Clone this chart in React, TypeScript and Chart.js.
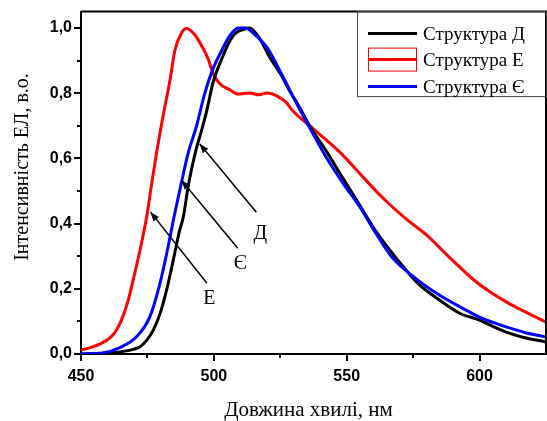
import React, { useEffect, useRef } from "react";
import { Chart, registerables } from "chart.js";

Chart.register(...registerables);

// ---- data ----
const seriesLabels = ["Структура Д", "Структура Е", "Структура Є"];

const wlD = [450, 460, 466, 470, 472.2, 475, 477.2, 480, 482.2, 484, 485.5, 487, 488.5, 490.5, 493.2, 495, 497.3, 499.7, 502.9, 506, 508.5, 511, 513.5, 517, 521, 525, 529, 532, 536, 542.5, 548.5, 555, 561, 569, 577, 585, 592.5, 600, 605, 610, 617, 625];
const valD = [0.0, 0.003, 0.008, 0.015, 0.022, 0.045, 0.073, 0.13, 0.196, 0.26, 0.318, 0.375, 0.42, 0.522, 0.624, 0.675, 0.745, 0.833, 0.904, 0.96, 0.986, 0.995, 1.0, 0.97, 0.91, 0.86, 0.8, 0.76, 0.7, 0.62, 0.54, 0.455, 0.376, 0.29, 0.215, 0.165, 0.125, 0.104, 0.085, 0.067, 0.05, 0.037];

const wlE = [450, 453, 457, 461, 463.5, 466, 468, 470, 472.2, 474.7, 476.6, 478.5, 480.9, 483.5, 485.3, 487.9, 489.7, 492.9, 495.4, 497.9, 499.8, 502.3, 506, 509.1, 513.5, 517, 520, 524, 527.4, 529.7, 536, 542.5, 548.5, 555, 561, 567.3, 573, 580, 587.6, 597.4, 604, 610, 617, 625];
const valE = [0.012, 0.018, 0.03, 0.05, 0.075, 0.12, 0.172, 0.24, 0.318, 0.42, 0.522, 0.62, 0.73, 0.84, 0.93, 0.985, 0.998, 0.978, 0.945, 0.904, 0.858, 0.828, 0.81, 0.797, 0.8, 0.795, 0.8, 0.79, 0.77, 0.746, 0.7, 0.655, 0.61, 0.553, 0.5, 0.45, 0.41, 0.365, 0.305, 0.23, 0.19, 0.16, 0.13, 0.098];

const wlYe = [450, 458, 464.7, 470.9, 475.9, 479.7, 482.5, 485, 487.7, 490.3, 493.5, 496.6, 499.7, 502.9, 506, 509.1, 512, 514.7, 520, 526, 532, 537, 542.5, 548.5, 555, 561, 567, 577, 585, 592.5, 600, 605, 610, 617, 625];
const valYe = [0.0, 0.003, 0.02, 0.053, 0.114, 0.216, 0.318, 0.42, 0.522, 0.615, 0.7, 0.8, 0.875, 0.93, 0.976, 1.0, 1.0, 0.985, 0.94, 0.85, 0.755, 0.68, 0.6, 0.525, 0.45, 0.37, 0.297, 0.225, 0.18, 0.145, 0.113, 0.097, 0.083, 0.066, 0.052];

const seriesColors = ["#000000", "#ff0000", "#0000ff"];

const xMin = 450;
const xMax = 625;
const xTickValues = [450, 500, 550, 600];
const yMin = 0;
const yMax = 1.05;
const yTickValues = [0, 0.2, 0.4, 0.6, 0.8, 1.0];
const xMinorTicks = [475, 525, 575];
const yMinorTicks = [0.1, 0.3, 0.5, 0.7, 0.9];

const xTitle = "Довжина хвилі, нм";
const yTitle = "Інтенсивність ЕЛ, в.о.";

// annotation arrows: label, tail(x,y), head(x,y), label(x,y) in data units
const annLabels = ["Д", "Є", "Е"];
const annTail = [[516.0, 0.435], [509.0, 0.324], [497.4, 0.217]];
const annHead = [[494.7, 0.644], [487.9, 0.532], [476.2, 0.435]];
const annText = [[517.5, 0.37], [510.0, 0.278], [498.3, 0.17]];

const toPts = (xs: number[], ys: number[]) => xs.map((x, i) => ({ x, y: ys[i] }));

const decorPlugin = {
  id: "decor",
  afterDraw(chart: any) {
    const ctx = chart.ctx;
    const xs = chart.scales.x;
    const ys = chart.scales.y;
    const a = chart.chartArea;
    ctx.save();
    // frame top and right
    ctx.strokeStyle = "#000";
    ctx.lineWidth = 2;
    ctx.beginPath();
    ctx.moveTo(a.left, a.top);
    ctx.lineTo(a.right, a.top);
    ctx.lineTo(a.right, a.bottom);
    ctx.stroke();
    // minor ticks
    ctx.lineWidth = 2;
    ctx.beginPath();
    xMinorTicks.forEach((v) => {
      const px = Math.round(xs.getPixelForValue(v));
      ctx.moveTo(px, a.bottom);
      ctx.lineTo(px, a.bottom + 4);
    });
    yMinorTicks.forEach((v) => {
      const py = Math.round(ys.getPixelForValue(v));
      ctx.moveTo(a.left, py);
      ctx.lineTo(a.left - 4, py);
    });
    ctx.stroke();

    // legend
    const lx = 357;
    const ly = a.top;
    const lw = a.right - lx;
    const lh = 85;
    ctx.strokeStyle = "#444";
    ctx.lineWidth = 1;
    ctx.strokeRect(lx + 0.5, ly, lw, lh);
    const rowsY = [ly + 22, ly + 48, ly + 75];
    chart.data.datasets.forEach((ds: any, i: number) => {
      const y = rowsY[i];
      if (i === 1) {
        ctx.strokeStyle = ds.borderColor;
        ctx.lineWidth = 1;
        ctx.strokeRect(368.5, y - 11.5, 48, 23);
      }
      ctx.strokeStyle = ds.borderColor;
      ctx.lineWidth = 3;
      ctx.beginPath();
      ctx.moveTo(368, y);
      ctx.lineTo(417, y);
      ctx.stroke();
      ctx.fillStyle = "#000";
      ctx.font = '19px "Liberation Serif"';
      ctx.textAlign = "left";
      ctx.textBaseline = "middle";
      ctx.fillText(ds.label, 423, y + 1);
    });

    // annotations
    annLabels.forEach((lab, i) => {
      const tx = xs.getPixelForValue(annTail[i][0]);
      const ty = ys.getPixelForValue(annTail[i][1]);
      const hx = xs.getPixelForValue(annHead[i][0]);
      const hy = ys.getPixelForValue(annHead[i][1]);
      ctx.strokeStyle = "#000";
      ctx.fillStyle = "#000";
      ctx.lineWidth = 1.5;
      ctx.beginPath();
      ctx.moveTo(tx, ty);
      ctx.lineTo(hx, hy);
      ctx.stroke();
      const ang = Math.atan2(hy - ty, hx - tx);
      const L = 9;
      const W = 3.5;
      ctx.beginPath();
      ctx.moveTo(hx, hy);
      ctx.lineTo(hx - L * Math.cos(ang) + W * Math.sin(ang), hy - L * Math.sin(ang) - W * Math.cos(ang));
      ctx.lineTo(hx - L * Math.cos(ang) - W * Math.sin(ang), hy - L * Math.sin(ang) + W * Math.cos(ang));
      ctx.closePath();
      ctx.fill();
      ctx.font = '20px "Liberation Serif"';
      ctx.textAlign = "center";
      ctx.textBaseline = "middle";
      ctx.fillText(lab, xs.getPixelForValue(annText[i][0]), ys.getPixelForValue(annText[i][1]));
    });

    // axis titles
    ctx.fillStyle = "#000";
    ctx.font = '21px "Liberation Serif"';
    ctx.textAlign = "center";
    ctx.textBaseline = "alphabetic";
    ctx.fillText(xTitle, (a.left + a.right) / 2 - 5, 416);
    ctx.save();
    ctx.font = '20px "Liberation Serif"';
    ctx.translate(28, 167);
    ctx.rotate(-Math.PI / 2);
    ctx.fillText(yTitle, 0, 0);
    ctx.restore();
    ctx.restore();
  },
};

export default function App() {
  const ref = useRef<HTMLCanvasElement | null>(null);
  useEffect(() => {
    document.body.style.margin = "0";
    const canvas = ref.current;
    if (!canvas) return;
    const tickFont = { family: "Liberation Sans", size: 16, weight: "bold" as const };
    const chart = new Chart(canvas, {
      type: "line",
      data: {
        datasets: [
          { label: seriesLabels[0], data: toPts(wlD, valD), borderColor: seriesColors[0], order: 2 },
          { label: seriesLabels[1], data: toPts(wlE, valE), borderColor: seriesColors[1], order: 3 },
          { label: seriesLabels[2], data: toPts(wlYe, valYe), borderColor: seriesColors[2], order: 1 },
        ].map((d) => ({
          ...d,
          borderWidth: 3,
          pointRadius: 0,
          fill: false,
          cubicInterpolationMode: "monotone" as const,
        })),
      },
      options: {
        animation: false,
        responsive: false,
        maintainAspectRatio: false,
        layout: { padding: { left: 0, right: 1, top: 10, bottom: 0 } },
        plugins: { legend: { display: false }, tooltip: { enabled: false } },
        scales: {
          x: {
            type: "linear",
            min: xMin,
            max: xMax,
            ticks: {
              font: tickFont,
              color: "#000",
              padding: 6,
              maxRotation: 0,
              autoSkip: false,
              callback: (v: any) => String(Math.round(Number(v))),
            },
            afterBuildTicks: (s: any) => {
              s.ticks = xTickValues.map((value) => ({ value }));
            },
            afterFit: (s: any) => {
              s.height = 67;
            },
            grid: { drawOnChartArea: false, drawTicks: true, tickLength: 7, color: "#000", lineWidth: 2 },
            border: { display: true, color: "#000", width: 2 },
          },
          y: {
            type: "linear",
            min: yMin,
            max: yMax,
            ticks: {
              font: tickFont,
              color: "#000",
              padding: 2,
              autoSkip: false,
              callback: (v: any) => Number(v).toFixed(1).replace(".", ","),
            },
            afterBuildTicks: (s: any) => {
              s.ticks = yTickValues.map((value) => ({ value }));
            },
            afterFit: (s: any) => {
              s.width = 81;
            },
            grid: { drawOnChartArea: false, drawTicks: true, tickLength: 7, color: "#000", lineWidth: 2 },
            border: { display: true, color: "#000", width: 2 },
          },
        },
      },
      plugins: [decorPlugin],
    });
    return () => chart.destroy();
  }, []);
  return (
    <div style={{ position: "absolute", left: 0, top: 0, width: 547, height: 421, background: "#fff" }}>
      <canvas ref={ref} width={547} height={421} />
    </div>
  );
}
